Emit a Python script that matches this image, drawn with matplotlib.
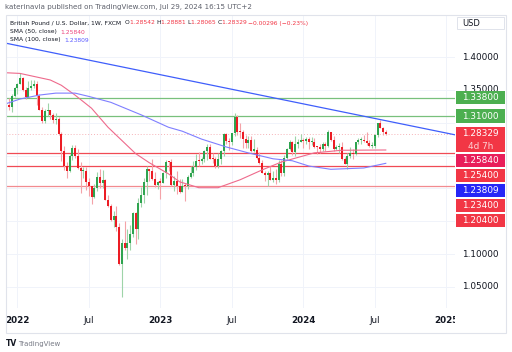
import numpy as np
import pandas as pd
import matplotlib
matplotlib.use('Agg')
import matplotlib.pyplot as plt
import matplotlib.dates as mdates
from matplotlib.patches import Rectangle

# weekly GBP/USD candles, Dec 6 2021 .. Jul 29 2024 (open of a week = previous close)
first_open = 1.3230
close = [
    1.3263, 1.3236, 1.3402, 1.3532,
    # 2022
    1.3590, 1.3676, 1.3497, 1.3384, 1.3528, 1.3559, 1.3591, 1.3410, 1.3191,
    1.3033, 1.3182, 1.3188, 1.3117, 1.3036, 1.3062, 1.2832, 1.2574,
    1.2340, 1.2260, 1.2490, 1.2621, 1.2489, 1.2312, 1.2264, 1.2270, 1.2096,
    1.2029, 1.1867, 1.1998, 1.2177, 1.2074, 1.2127, 1.1830, 1.1729, 1.1516,
    1.1583, 1.1410, 1.0855, 1.1167, 1.1090, 1.1174, 1.1302, 1.1617, 1.1374,
    1.1773, 1.1903, 1.2093, 1.2287, 1.2263, 1.2142, 1.2052, 1.2097,
    # 2023
    1.2088, 1.2227, 1.2397, 1.2395, 1.2054, 1.2119, 1.2031, 1.1943, 1.2039,
    1.2033, 1.2173, 1.2231, 1.2331, 1.2415, 1.2414, 1.2441, 1.2569,
    1.2633, 1.2447, 1.2444, 1.2345, 1.2453, 1.2575, 1.2820, 1.2715, 1.2702,
    1.2838, 1.3089, 1.2854, 1.2852, 1.2749, 1.2693, 1.2735, 1.2575, 1.2589,
    1.2468, 1.2380, 1.2239, 1.2201, 1.2236, 1.2130, 1.2164, 1.2127, 1.2378,
    1.2236, 1.2460, 1.2605, 1.2708, 1.2546, 1.2681, 1.2705, 1.2730,
    # 2024
    1.2719, 1.2757, 1.2704, 1.2704, 1.2630, 1.2625, 1.2598, 1.2671, 1.2652,
    1.2858, 1.2735, 1.2600, 1.2623, 1.2633, 1.2449, 1.2370, 1.2493, 1.2545,
    1.2524, 1.2703, 1.2737, 1.2741, 1.2723, 1.2684, 1.2644, 1.2645,
    1.2815, 1.2992, 1.2917, 1.2854, 1.28329,
]
high = [
    1.3300, 1.3375, 1.3437, 1.3550,
    1.3600, 1.3749, 1.3690, 1.3550, 1.3628, 1.3645, 1.3643, 1.3640, 1.3438,
    1.3240, 1.3214, 1.3298, 1.3190, 1.3150, 1.3148, 1.3090, 1.2855,
    1.2638, 1.2406, 1.2525, 1.2667, 1.2667, 1.2600, 1.2406, 1.2324, 1.2332,
    1.2165, 1.2030, 1.2064, 1.2245, 1.2293, 1.2276, 1.2140, 1.1900, 1.1760,
    1.1650, 1.1738, 1.1475, 1.1235, 1.1496, 1.1380, 1.1440, 1.1645, 1.1646,
    1.1855, 1.2028, 1.2153, 1.2345, 1.2300, 1.2446, 1.2243, 1.2107,
    1.2150, 1.2247, 1.2436, 1.2419, 1.2448, 1.2193, 1.2270, 1.2149, 1.2143,
    1.2082, 1.2205, 1.2344, 1.2423, 1.2525, 1.2546, 1.2475, 1.2584,
    1.2668, 1.2680, 1.2540, 1.2472, 1.2545, 1.2590, 1.2848, 1.2849, 1.2760,
    1.2848, 1.3142, 1.3120, 1.2995, 1.2893, 1.2818, 1.2804, 1.2790, 1.2746,
    1.2626, 1.2548, 1.2424, 1.2270, 1.2262, 1.2337, 1.2270, 1.2288, 1.2428,
    1.2429, 1.2506, 1.2615, 1.2733, 1.2717, 1.2794, 1.2745, 1.2827,
    1.2772, 1.2785, 1.2775, 1.2775, 1.2773, 1.2650, 1.2669, 1.2709, 1.2710,
    1.2894, 1.2865, 1.2803, 1.2654, 1.2683, 1.2709, 1.2482, 1.2540, 1.2634,
    1.2594, 1.2712, 1.2761, 1.2778, 1.2818, 1.2860, 1.2742, 1.2709,
    1.2827, 1.2996, 1.3044, 1.2940, 1.28881,
]
low = [
    1.3160, 1.3200, 1.3163, 1.3390,
    1.3430, 1.3590, 1.3480, 1.3360, 1.3390, 1.3490, 1.3530, 1.3273, 1.3187,
    1.3000, 1.2999, 1.3102, 1.3050, 1.3000, 1.2975, 1.2818, 1.2411,
    1.2276, 1.2155, 1.2250, 1.2430, 1.2460, 1.2300, 1.1934, 1.2160, 1.1975,
    1.1876, 1.1760, 1.1857, 1.1960, 1.2005, 1.2003, 1.1817, 1.1717, 1.1500,
    1.1406, 1.1351, 1.0838, 1.0350, 1.1055, 1.0924, 1.1059, 1.1257, 1.1147,
    1.1230, 1.1710, 1.1780, 1.1900, 1.2107, 1.2120, 1.2018, 1.1992,
    1.1841, 1.2086, 1.2150, 1.2263, 1.2040, 1.1961, 1.1915, 1.1924, 1.1938,
    1.1803, 1.1989, 1.2162, 1.2191, 1.2276, 1.2345, 1.2370, 1.2404,
    1.2430, 1.2440, 1.2390, 1.2308, 1.2307, 1.2370, 1.2493, 1.2680, 1.2590,
    1.2659, 1.2800, 1.2810, 1.2763, 1.2620, 1.2616, 1.2616, 1.2548, 1.2546,
    1.2445, 1.2378, 1.2231, 1.2110, 1.2037, 1.2123, 1.2090, 1.2070, 1.2096,
    1.2186, 1.2187, 1.2446, 1.2580, 1.2501, 1.2500, 1.2613, 1.2700,
    1.2611, 1.2676, 1.2596, 1.2664, 1.2620, 1.2518, 1.2536, 1.2574, 1.2570,
    1.2635, 1.2720, 1.2575, 1.2588, 1.2540, 1.2425, 1.2366, 1.2300, 1.2467,
    1.2446, 1.2502, 1.2680, 1.2682, 1.2706, 1.2657, 1.2622, 1.2612,
    1.2615, 1.2780, 1.2915, 1.2807, 1.28065,
]

# SMA values at some weeks (index into the weekly bars)
sma50_idx = [0, 5, 16, 20, 25, 31, 37, 43, 47, 52, 59, 63, 70, 77, 85, 93, 100, 112, 122, 138]
sma50_val = [1.376, 1.375, 1.365, 1.357, 1.342, 1.322, 1.293, 1.269, 1.253, 1.239,
             1.222, 1.210, 1.201, 1.201, 1.213, 1.228, 1.240, 1.254, 1.258, 1.2584]
sma100_idx = [0, 5, 12, 18, 25, 30, 38, 49, 59, 64, 71, 80, 88, 97, 104, 110, 118, 130, 138]
sma100_val = [1.329, 1.336, 1.342, 1.345, 1.345, 1.340, 1.331, 1.312, 1.293, 1.287,
              1.275, 1.263, 1.254, 1.245, 1.242, 1.234, 1.229, 1.231, 1.23809]

# drawn trend line and horizontal levels
trend_dates = ['2021-12-06', '2025-01-27']
trend_prices = [1.4209, 1.2808]
green_levels = [1.338, 1.31]
red_levels = [1.254, 1.234]
pink_levels = [1.204]
last_price = 1.28329
sma50_last = 1.25840
sma100_last = 1.23809

price_ticks = [1.05, 1.10, 1.15, 1.20, 1.25, 1.30, 1.35, 1.40]
tick_dates = ['2022-01-03', '2022-07-04', '2023-01-02', '2023-07-03',
              '2024-01-01', '2024-07-01', '2024-12-30']
tick_labels = ['2022', 'Jul', '2023', 'Jul', '2024', 'Jul', '2025']

UP = '#2ea44f'
DOWN = '#ec1c24'
UP_WICK = '#9ed4a8'
DOWN_WICK = '#f4a3a8'
GREEN_BOX = '#4caf50'
RED_BOX = '#f23645'
SMA50_C = '#ee6a8c'
SMA100_C = '#7f7fff'
TXT = '#131722'

W, H = 512, 352
fig = plt.figure(figsize=(W / 100, H / 100), dpi=100)

def fx(px):
    return px / W

def fy(py):
    return 1 - py / H

PPU = 656.7   # pixels per 1.0 of price
ymax = 1.40 + (57 - 15) / PPU
ymin = 1.40 - (308 - 57) / PPU

def to_px(p):
    return 57 + (1.40 - p) * PPU

def to_price(py):
    return 1.40 - (py - 57) / PPU

ax = fig.add_axes([fx(5.5), fy(308), fx(455 - 5.5), (308 - 15) / H])
ax.set_ylim(ymin, ymax)
x0 = mdates.date2num(pd.Timestamp('2021-12-04'))
ax.set_xlim(x0, x0 + (455 - 5.5) * 7 / 2.75)
for s in ax.spines.values():
    s.set_visible(False)
ax.set_yticks([])

dates = pd.date_range('2021-12-06', periods=len(close), freq='W-MON')
xd = mdates.date2num(dates)
c = np.array(close)
o = np.array([first_open] + close[:-1])
hi = np.maximum(np.array(high), np.maximum(o, c))
lo = np.minimum(np.array(low), np.minimum(o, c))
up = c >= o

# grid
for p in price_ticks:
    ax.axhline(p, color='#f0f3fa', lw=0.7, zorder=0)
tx = mdates.date2num(pd.to_datetime(tick_dates))
for t in tx:
    ax.axvline(t, color='#f0f3fa', lw=0.7, zorder=0)

# levels
for p in green_levels:
    ax.axhline(p, color='#78c07c', lw=0.9, zorder=1)
for p in red_levels:
    ax.axhline(p, color='#f04a55', lw=0.9, zorder=1)
for p in pink_levels:
    ax.axhline(p, color='#f28b90', lw=0.9, zorder=1)
ax.axhline(last_price, color='#f6b3b8', lw=0.7, ls=(0, (1, 2)), zorder=1)

# candles
ax.vlines(xd, lo, hi, colors=np.where(up, UP_WICK, DOWN_WICK), lw=0.8, zorder=2)
body = np.maximum(np.abs(c - o), 1.2 / PPU)
ax.bar(xd, body, bottom=np.minimum(o, c), width=5,
       color=np.where(up, UP, DOWN), linewidth=0, zorder=3)

# indicators
ax.plot(xd[sma50_idx], sma50_val, color=SMA50_C, lw=0.8, zorder=4)
ax.plot(xd[sma100_idx], sma100_val, color=SMA100_C, lw=0.8, zorder=4)
ax.plot(mdates.date2num(pd.to_datetime(trend_dates)), trend_prices,
        color='#3f5efb', lw=0.9, zorder=4)

ax.set_xticks(tx)
ax.set_xticklabels(tick_labels)
ax.tick_params(axis='x', length=0, pad=6, labelsize=6.3, colors=TXT)
for lbl in ax.get_xticklabels():
    if lbl.get_text() != 'Jul':
        lbl.set_fontweight('bold')

# price scale
axp = fig.add_axes([fx(455), fy(333), fx(51), (333 - 15) / H])
axp.set_xlim(455, 506)
axp.set_ylim(to_price(333), ymax)
axp.set_xticks([])
axp.set_yticks([])
for s in axp.spines.values():
    s.set_visible(False)

labels = [
    (green_levels[0], GREEN_BOX, None),
    (green_levels[1], GREEN_BOX, None),
    (last_price, RED_BOX, '4d 7h'),
    (sma50_last, '#e91e5a', None),
    (red_levels[0], RED_BOX, None),
    (sma100_last, '#2626f7', None),
    (red_levels[1], RED_BOX, None),
    (pink_levels[0], RED_BOX, None),
]
bh = 13.5
prev_bottom = -1e9
spans = []
for p, col, extra in labels:
    top = max(to_px(p) - bh / 2, prev_bottom + 1.5)
    h = bh * 2 - 1.5 if extra else bh
    bottom = top + h
    spans.append((top, bottom))
    axp.add_patch(Rectangle((456, to_price(bottom)), 49, h / PPU,
                            facecolor=col, edgecolor='none', zorder=3))
    axp.text(480.5, to_price(top + bh / 2), f'{p:.5f}', ha='center', va='center',
             fontsize=6.4, color='white', zorder=4)
    if extra:
        axp.text(480.5, to_price(top + bh * 1.45), extra, ha='center', va='center',
                 fontsize=6.4, color='#fcd3d6', zorder=4)
    prev_bottom = bottom

# scale labels that are not hidden behind a box
for p in price_ticks:
    if any(t < to_px(p) < b for t, b in spans):
        continue
    axp.text(480.5, p, f'{p:.5f}', ha='center', va='center', fontsize=6.4, color=TXT, zorder=1)

# USD box
fig.add_artist(Rectangle((fx(457), fy(29)), fx(47), 12 / H, transform=fig.transFigure,
                         facecolor='white', edgecolor='#e0e3eb', lw=0.7))
fig.text(fx(462), fy(23), 'USD', fontsize=6, color=TXT, va='center')

# panel border
fig.add_artist(Rectangle((fx(5.5), fy(333)), fx(506 - 5.5), (333 - 15) / H,
                         transform=fig.transFigure, fill=False, edgecolor='#e0e3eb', lw=0.8))

# header and legend
fig.text(fx(5), fy(7), 'katerinavla published on TradingView.com, Jul 29, 2024 16:15 UTC+2',
         fontsize=5.1, color='#5d606b', va='center')

renderer = fig.canvas.get_renderer()

def runs(x, y, parts, size=4.3):
    for s, col in parts:
        t = fig.text(fx(x), fy(y), s, fontsize=size, color=col, va='center', ha='left')
        x += t.get_window_extent(renderer=renderer).width

runs(10, 23, [('British Pound / U.S. Dollar, 1W, FXCM  ', TXT), ('O', TXT), ('1.28542 ', RED_BOX),
              ('H', TXT), ('1.28881 ', RED_BOX), ('L', TXT), ('1.28065 ', RED_BOX),
              ('C', TXT), ('1.28329 ', RED_BOX), ('\u22120.00296 (\u22120.23%)', RED_BOX)])
runs(10, 32, [('SMA (50, close)  ', TXT), ('1.25840', '#ec407a')])
runs(10, 40, [('SMA (100, close)  ', TXT), ('1.23809', '#5b5bff')])

# footer logo
fig.text(fx(6), fy(344), 'TV', fontsize=5.5, fontweight='bold', color=TXT, va='center')
fig.text(fx(18), fy(344), 'TradingView', fontsize=5, color='#787b86', va='center')

fig.savefig('out.png', dpi=100, facecolor='white')
